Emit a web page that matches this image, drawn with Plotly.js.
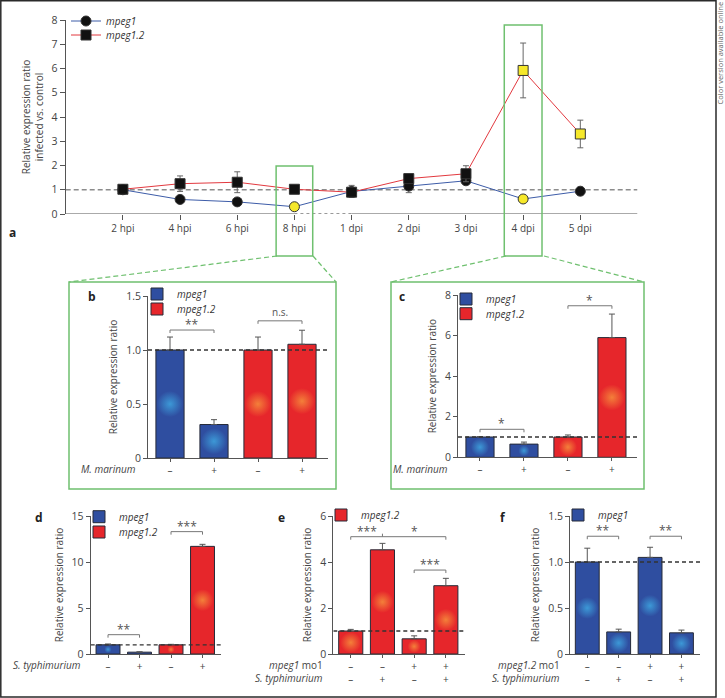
<!DOCTYPE html>
<html><head><meta charset="utf-8">
<script src="https://cdn.plot.ly/plotly-3.0.1.min.js"></script>
<style>html,body{margin:0;padding:0;background:#fff}#chart{width:725px;height:698px}</style>
</head><body><div id="chart"></div>
<script>
// ---------------- DATA ----------------
// Panel a: time course, ratio infected vs control
const timePoints = ['2 hpi','4 hpi','6 hpi','8 hpi','1 dpi','2 dpi','3 dpi','4 dpi','5 dpi'];
const aMpeg1     = [1.0, 0.6, 0.5, 0.3, 0.93, 1.15, 1.37, 0.62, 0.94];
const aMpeg1Err  = [0, 0.05, 0.05, 0.05, 0.25, 0.27, 0.05, 0.05, 0.16];
const aMpeg12    = [1.02, 1.25, 1.31, 1.02, 0.9, 1.46, 1.66, 5.92, 3.3];
const aMpeg12Err = [0.05, 0.32, 0.43, 0.05, 0.1, 0.1, 0.33, 1.13, 0.57];
const aHighlight1  = ['8 hpi', '4 dpi'];
const aHighlight12 = ['4 dpi', '5 dpi'];

// Panel b: 8 hpi, M. marinum
const bMarinum   = ['–','+','–','+'];
const bMpeg1     = [1.0, 0.31];  const bMpeg1Err  = [0.12, 0.045];
const bMpeg12    = [1.0, 1.053]; const bMpeg12Err = [0.12, 0.13];
// Panel c: 4 dpi, M. marinum
const cMarinum   = ['–','+','–','+'];
const cMpeg1     = [1.0, 0.65];  const cMpeg1Err  = [0.02, 0.1];
const cMpeg12    = [1.0, 5.9];   const cMpeg12Err = [0.1, 1.16];
// Panel d: S. typhimurium
const dTyph      = ['–','+','–','+'];
const dMpeg1     = [1.0, 0.2];   const dMpeg1Err  = [0.09, 0.04];
const dMpeg12    = [1.0, 11.7];  const dMpeg12Err = [0.05, 0.22];
// Panel e: mpeg1.2 expression with mpeg1 morpholino
const eMo1       = ['–','–','+','+'];
const eTyph      = ['–','+','–','+'];
const eMpeg12    = [1.0, 4.53, 0.66, 2.97]; const eMpeg12Err = [0.07, 0.28, 0.13, 0.32];
// Panel f: mpeg1 expression with mpeg1.2 morpholino
const fMo1       = ['–','–','+','+'];
const fTyph      = ['–','+','–','+'];
const fMpeg1     = [1.0, 0.24, 1.05, 0.23]; const fMpeg1Err = [0.15, 0.03, 0.11, 0.03];

// significance brackets
const bSig = [{from:0,to:1,level:1.185,labels:[{x:0.5,t:'**'}]},{from:2,to:3,level:1.27,labels:[{x:2.5,t:'n.s.'}]}];
const cSig = [{from:0,to:1,level:1.38,labels:[{x:0.5,t:'*'}]},{from:2,to:3,level:7.47,labels:[{x:2.5,t:'*'}]}];
const dSig = [{from:0,to:1,level:2.1,labels:[{x:0.5,t:'**'}]},{from:2,to:3,level:13.3,labels:[{x:2.5,t:'***'}]}];
const eSig = [{from:0,to:3,level:5.1,mid:1,labels:[{x:0.5,t:'***'},{x:2,t:'*'}]},{from:2,to:3,level:3.65,labels:[{x:2.5,t:'***'}]}];
const fSig = [{from:0,to:1,level:1.28,labels:[{x:0.5,t:'**'}]},{from:2,to:3,level:1.28,labels:[{x:2.5,t:'**'}]}];

// ---------------- STYLE ----------------
const W = 725, H = 698;
const fx = px => px / W;
const fy = py => 1 - py / H;
const FONT = 'Open Sans, Noto Sans, DejaVu Sans, sans-serif';
const AX = '#555', TXT = '#444', GREEN = '#6fc06f';
const BLUE = '#2f4ea0', BLUE_GLOW = '#42b8ee', RED = '#e6262b', RED_GLOW = '#f9a640';
const YELLOW = '#f6e82a';

const traces = [];
const shapes = [];
const annotations = [];
const layout = {
  width: W, height: H, margin: {l:0, r:0, t:0, b:0},
  paper_bgcolor: '#fff', plot_bgcolor: 'rgba(0,0,0,0)',
  font: {family: FONT, size: 10, color: TXT},
  barmode: 'overlay', showlegend: true, hovermode: false,
  shapes, annotations
};

function legendAt(leftPx, yPx) {
  return {x: fx(leftPx), y: fy(yPx), xanchor: 'left', yanchor: 'middle',
    bgcolor: 'rgba(0,0,0,0)', borderwidth: 0, itemwidth: 30, tracegroupgap: 0,
    font: {family: FONT, size: 10, color: '#333', style: 'italic'}};
}

// ---------------- PANEL a ----------------
layout.xaxis = {domain: [fx(65.7), fx(637.5)], type: 'category', categoryarray: timePoints,
  range: [-1, 9], anchor: 'y', showline: false, showgrid: false, zeroline: false,
  ticks: 'outside', ticklen: 5, tickcolor: AX, tickfont: {size: 10, color: TXT}};
layout.yaxis = {domain: [fy(214), fy(20)], range: [0, 8], anchor: 'x', showline: true,
  linecolor: AX, linewidth: 1, showgrid: false, zeroline: false, ticks: 'outside', ticklen: 5,
  tickcolor: AX, dtick: 1, tickfont: {size: 10.5, color: TXT},
  title: {text: 'Relative expression ratio<br>infected vs. control', font: {size: 10, color: TXT}, standoff: 6}};

traces.push({type: 'scatter', mode: 'lines+markers', x: timePoints, y: aMpeg1, name: 'mpeg1',
  legend: 'legend', xaxis: 'x', yaxis: 'y', cliponaxis: false,
  line: {color: '#3d5ca8', width: 1},
  marker: {symbol: 'circle', size: 10, color: timePoints.map(t => aHighlight1.includes(t) ? YELLOW : '#111'),
    line: {color: '#333', width: 1}},
  error_y: {type: 'data', array: aMpeg1Err, color: '#666', thickness: 1, width: 3}});
traces.push({type: 'scatter', mode: 'lines+markers', x: timePoints, y: aMpeg12, name: 'mpeg1.2',
  legend: 'legend2', xaxis: 'x', yaxis: 'y', cliponaxis: false,
  line: {color: '#e2393f', width: 1},
  marker: {symbol: 'square', size: 10, color: timePoints.map(t => aHighlight12.includes(t) ? YELLOW : '#111'),
    line: {color: '#333', width: 1}},
  error_y: {type: 'data', array: aMpeg12Err, color: '#666', thickness: 1, width: 3}});
layout.legend = legendAt(66, 21);
layout.legend2 = legendAt(66, 35);

// x axis of panel a: solid, dashed between 8 hpi and 1 dpi, solid
const i8h = timePoints.indexOf('8 hpi'), i1d = timePoints.indexOf('1 dpi'), i4d = timePoints.indexOf('4 dpi');
shapes.push({type: 'line', xref: 'x', yref: 'y', x0: -1, x1: i8h, y0: 0, y1: 0, line: {color: AX, width: 1}});
shapes.push({type: 'line', xref: 'x', yref: 'y', x0: i8h, x1: i1d, y0: 0, y1: 0, line: {color: '#333', width: 1, dash: '3px,3px'}});
shapes.push({type: 'line', xref: 'x', yref: 'y', x0: i1d, x1: 9, y0: 0, y1: 0, line: {color: AX, width: 1}});
[-1, 9].forEach(v => shapes.push({type: 'line', xref: 'x', yref: 'y', ysizemode: 'pixel', yanchor: 0,
  x0: v, x1: v, y0: 0, y1: -5, line: {color: AX, width: 1}}));
shapes.push({type: 'line', xref: 'x', yref: 'y', x0: -1, x1: 9, y0: 1, y1: 1, layer: 'below',
  line: {color: '#8c8c8c', width: 1.5, dash: '5px,3px'}});
// green highlight boxes
shapes.push({type: 'rect', xref: 'x', yref: 'paper', x0: i8h - 0.32, x1: i8h + 0.32, y0: fy(256), y1: fy(166), line: {color: GREEN, width: 1.5}});
shapes.push({type: 'rect', xref: 'x', yref: 'paper', x0: i4d - 0.33, x1: i4d + 0.33, y0: fy(256), y1: fy(25), line: {color: GREEN, width: 1.5}});
// zoom boxes b, c and connectors
shapes.push({type: 'rect', xref: 'paper', yref: 'paper', x0: fx(69), x1: fx(336), y0: fy(489), y1: fy(282), line: {color: GREEN, width: 1.5}});
shapes.push({type: 'rect', xref: 'paper', yref: 'paper', x0: fx(391), x1: fx(644), y0: fy(489), y1: fy(282), line: {color: GREEN, width: 1.5}});
[[277, 69], [313, 336], [506, 391], [544, 644]].forEach(([a, b]) => shapes.push({type: 'line', xref: 'paper', yref: 'paper',
  x0: fx(a), y0: fy(256), x1: fx(b), y1: fy(282), line: {color: GREEN, width: 1.2, dash: '5px,3px'}}));
// outer frame
shapes.push({type: 'rect', xref: 'paper', yref: 'paper', x0: fx(0.8), x1: fx(716), y0: fy(697), y1: fy(0.8), line: {color: '#2a2a2a', width: 1.5}});

// ---------------- BAR PANELS ----------------
function barPanel(n, p) {
  const pxUnitY = (p.ypx[0] - p.ypx[1]) / (p.yr[1] - p.yr[0]);
  const pxUnitX = (p.xpx[1] - p.xpx[0]) / (p.xr[1] - p.xr[0]);
  const barPx = p.bw * pxUnitX;
  layout['xaxis' + n] = {domain: [fx(p.xpx[0]), fx(p.xpx[1])], range: p.xr, anchor: 'y' + n,
    showline: true, linecolor: AX, linewidth: 1, showgrid: false, zeroline: false,
    ticks: 'outside', ticklen: 3, tickcolor: AX, tickvals: p.xticktext.map((_, i) => i), ticktext: p.xticktext,
    tickfont: {size: 10, color: TXT}};
  layout['yaxis' + n] = {domain: [fy(p.ypx[0]), fy(p.ypx[1])], range: p.yr, anchor: 'x' + n,
    showline: true, linecolor: AX, linewidth: 1, showgrid: false, zeroline: false,
    ticks: 'outside', ticklen: 4, tickcolor: AX, tickvals: p.tv, ticktext: p.tt,
    tickfont: {size: 10.5, color: TXT},
    title: {text: 'Relative expression ratio', font: {size: 10, color: TXT}, standoff: 6}};
  p.series.forEach(s => {
    traces.push({type: 'bar', x: s.x, y: s.y, width: p.bw, name: s.name, legend: s.legend,
      xaxis: 'x' + n, yaxis: 'y' + n,
      marker: {color: s.color, line: {color: '#262a38', width: 1}},
      error_y: {type: 'data', symmetric: false, array: s.err, arrayminus: s.err.map(() => 0),
        color: '#555', thickness: 1, width: 3}});
    traces.push({type: 'scatter', mode: 'markers', x: s.x, y: s.y.map(v => v / 2),
      xaxis: 'x' + n, yaxis: 'y' + n, showlegend: false, hoverinfo: 'skip',
      marker: {size: s.y.map(v => { const z = Math.min(barPx, v * pxUnitY) - 2; return z > 3 ? z : 0; }),
        color: s.color, gradient: {type: 'radial', color: s.glow}, line: {width: 0}}});
  });
  // reference line at 1
  shapes.push({type: 'line', xref: 'x' + n, yref: 'y' + n, x0: p.xr[0], x1: p.xr[1], y0: 1, y1: 1,
    line: {color: '#333', width: 1.3, dash: '4px,3px'}});
  // significance brackets
  const d = 3 / pxUnitY;
  p.sig.forEach(br => {
    let path = `M${br.from},${br.level - d} L${br.from},${br.level} L${br.to},${br.level} L${br.to},${br.level - d}`;
    if (br.mid !== undefined) path += ` M${br.mid},${br.level} L${br.mid},${br.level + d}`;
    shapes.push({type: 'path', xref: 'x' + n, yref: 'y' + n, path, line: {color: '#777', width: 1}});
    br.labels.forEach(l => annotations.push({xref: 'x' + n, yref: 'y' + n, x: l.x, y: br.level,
      text: l.t, showarrow: false, yanchor: 'bottom',
      yshift: l.t === 'n.s.' ? 0 : -5,
      font: {size: l.t === 'n.s.' ? 10 : 12, color: '#555'}}));
  });
  // row labels
  p.rows.forEach(r => annotations.push({xref: 'paper', yref: 'paper', x: fx(r.x), y: fy(r.y),
    xanchor: 'right', yanchor: 'middle', showarrow: false, text: r.t, font: {size: 10, color: TXT}}));
}

const idx4 = bMarinum.map((_, i) => i);
barPanel(2, {xpx: [148, 328.4], ypx: [458, 296], xr: [-0.5, 3.6], yr: [0, 1.5], bw: 0.64,
  tv: [0, 0.5, 1, 1.5], tt: ['0', '0.5', '1.0', '1.5'], xticktext: bMarinum,
  series: [{x: idx4.slice(0, 2), y: bMpeg1, err: bMpeg1Err, name: 'mpeg1', legend: 'legend3', color: BLUE, glow: BLUE_GLOW},
           {x: idx4.slice(2), y: bMpeg12, err: bMpeg12Err, name: 'mpeg1.2', legend: 'legend4', color: RED, glow: RED_GLOW}],
  sig: bSig, rows: [{x: 138, y: 469, t: '<i>M. marinum</i>'}]});
barPanel(3, {xpx: [458, 637], ypx: [457.3, 295], xr: [-0.5, 3.57], yr: [0, 8], bw: 0.64,
  tv: [0, 2, 4, 6, 8], tt: ['0', '2', '4', '6', '8'], xticktext: cMarinum,
  series: [{x: idx4.slice(0, 2), y: cMpeg1, err: cMpeg1Err, name: 'mpeg1', legend: 'legend5', color: BLUE, glow: BLUE_GLOW},
           {x: idx4.slice(2), y: cMpeg12, err: cMpeg12Err, name: 'mpeg1.2', legend: 'legend6', color: RED, glow: RED_GLOW}],
  sig: cSig, rows: [{x: 450, y: 469, t: '<i>M. marinum</i>'}]});
barPanel(4, {xpx: [90.7, 221.4], ypx: [654, 516], xr: [-0.55, 3.6], yr: [0, 15], bw: 0.76,
  tv: [0, 5, 10, 15], tt: ['0', '5', '10', '15'], xticktext: dTyph,
  series: [{x: idx4.slice(0, 2), y: dMpeg1, err: dMpeg1Err, name: 'mpeg1', legend: 'legend7', color: BLUE, glow: BLUE_GLOW},
           {x: idx4.slice(2), y: dMpeg12, err: dMpeg12Err, name: 'mpeg1.2', legend: 'legend8', color: RED, glow: RED_GLOW}],
  sig: dSig, rows: [{x: 83, y: 665, t: '<i>S. typhimurium</i>'}]});
barPanel(5, {xpx: [333.3, 464.9], ypx: [654, 516], xr: [-0.55, 3.6], yr: [0, 6], bw: 0.76,
  tv: [0, 2, 4, 6], tt: ['0', '2', '4', '6'], xticktext: eMo1.map((m, i) => m + '<br>' + eTyph[i]),
  series: [{x: idx4, y: eMpeg12, err: eMpeg12Err, name: 'mpeg1.2', legend: 'legend9', color: RED, glow: RED_GLOW}],
  sig: eSig, rows: [{x: 325, y: 665, t: '<i>mpeg1</i> mo1'}, {x: 325, y: 677.5, t: '<i>S. typhimurium</i>'}]});
barPanel(6, {xpx: [570, 700.3], ypx: [654, 516], xr: [-0.55, 3.6], yr: [0, 1.5], bw: 0.76,
  tv: [0, 0.5, 1, 1.5], tt: ['0', '0.5', '1.0', '1.5'], xticktext: fMo1.map((m, i) => m + '<br>' + fTyph[i]),
  series: [{x: idx4, y: fMpeg1, err: fMpeg1Err, name: 'mpeg1', legend: 'legend10', color: BLUE, glow: BLUE_GLOW}],
  sig: fSig, rows: [{x: 562, y: 665, t: '<i>mpeg1.2</i> mo1'}, {x: 562, y: 677.5, t: '<i>S. typhimurium</i>'}]});

layout.legend3 = legendAt(137, 294);
layout.legend4 = legendAt(137, 309);
layout.legend5 = legendAt(446, 299);
layout.legend6 = legendAt(446, 313.7);
layout.legend7 = legendAt(79, 516.7);
layout.legend8 = legendAt(79, 532);
layout.legend9 = legendAt(321, 515);
layout.legend10 = legendAt(558, 515);

// panel letters
[['a', 12, 232], ['b', 92, 297], ['c', 402, 297], ['d', 39, 517], ['e', 281, 517], ['f', 503, 517]].forEach(([t, x, y]) =>
  annotations.push({xref: 'paper', yref: 'paper', x: fx(x), y: fy(y), text: '<b>' + t + '</b>', showarrow: false,
    xanchor: 'center', yanchor: 'middle', font: {size: 12, color: '#222'}}));
annotations.push({xref: 'paper', yref: 'paper', x: fx(719.5), y: fy(53), text: 'Color version available online',
  textangle: -90, showarrow: false, xanchor: 'center', yanchor: 'middle', font: {size: 7.5, color: '#666'}});

Plotly.newPlot('chart', traces, layout, {displayModeBar: false, staticPlot: true});
</script></body></html>
